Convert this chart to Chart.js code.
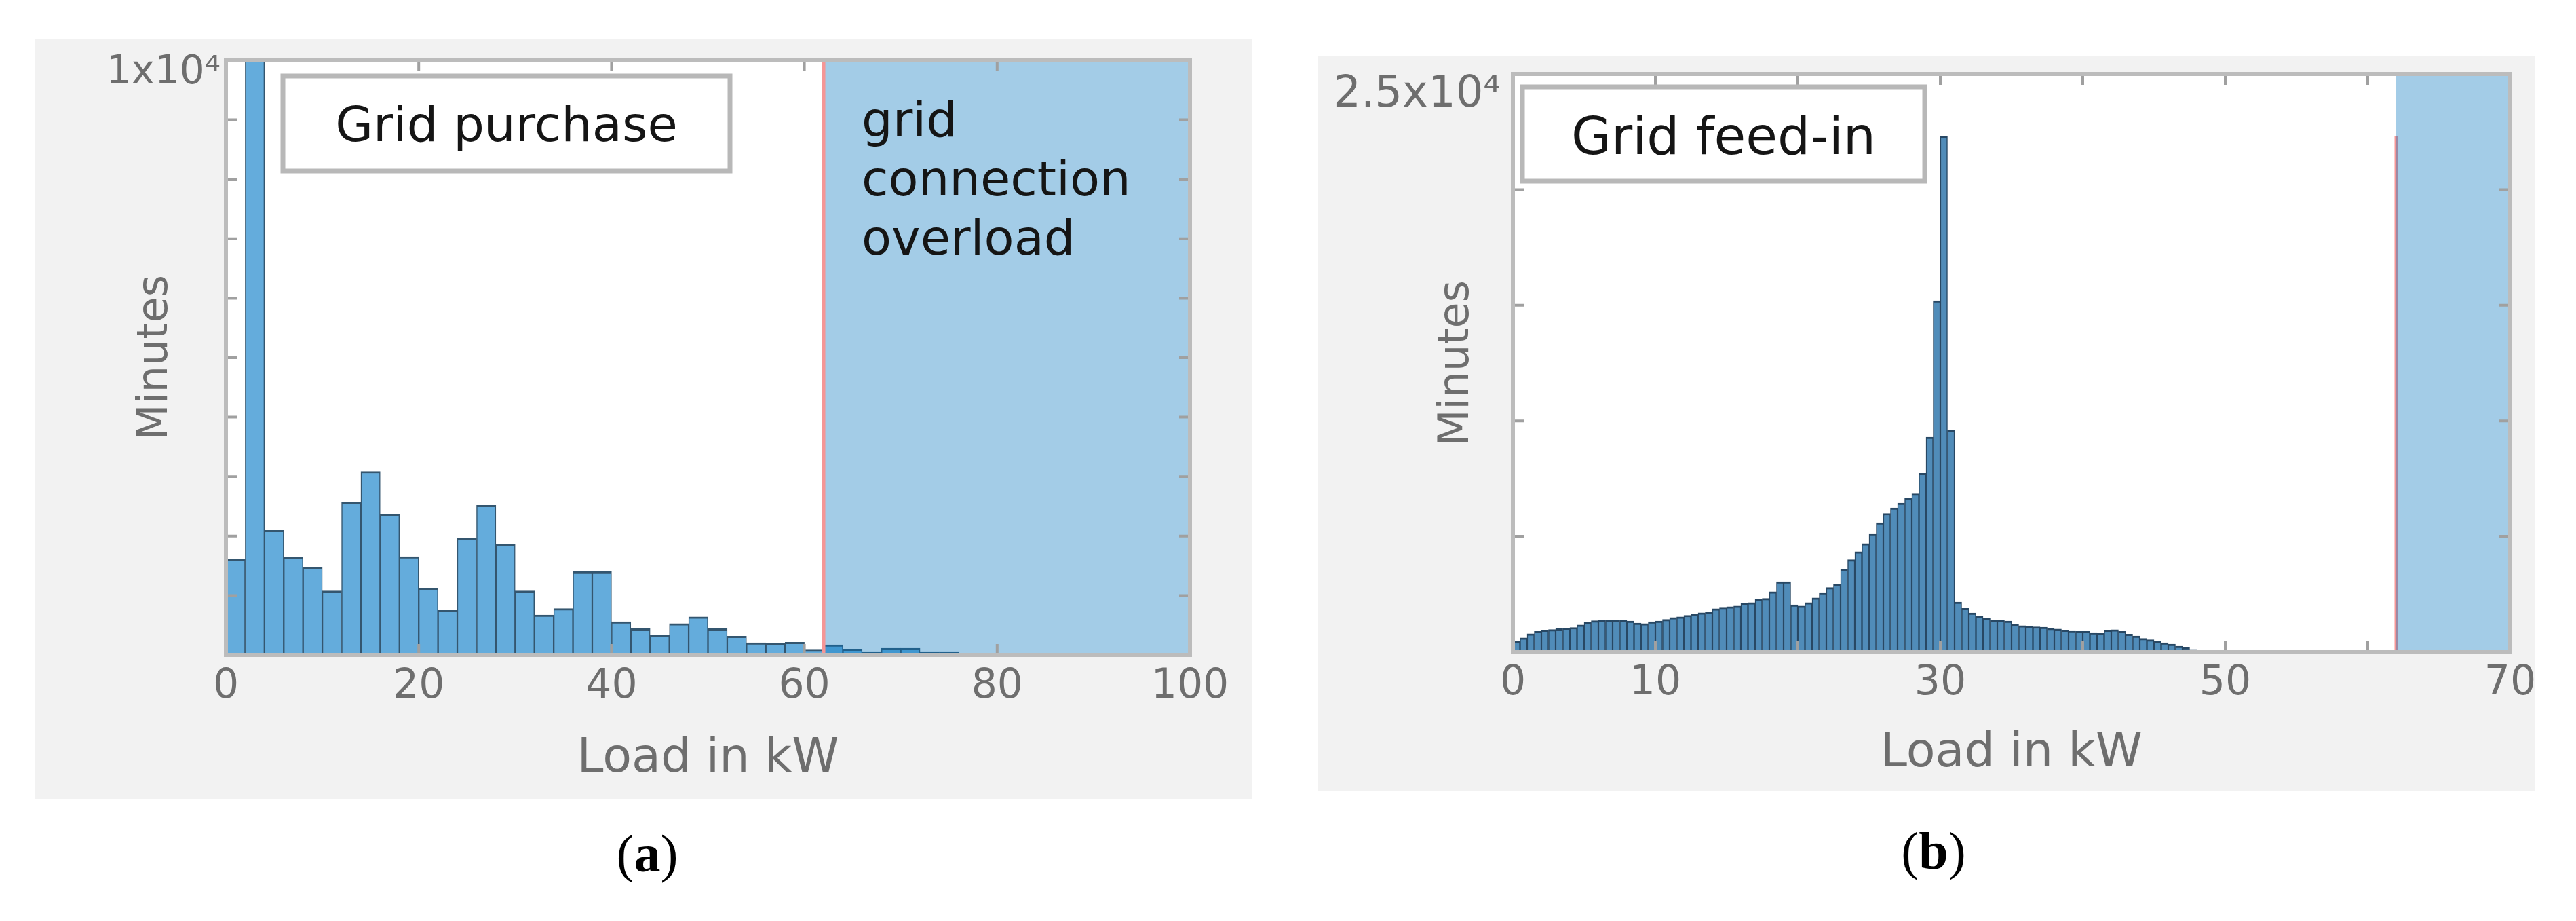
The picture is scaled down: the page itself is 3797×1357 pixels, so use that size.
<!DOCTYPE html>
<html>
<head>
<meta charset="utf-8">
<title>Grid purchase / grid feed-in histograms</title>
<script src="https://cdn.jsdelivr.net/npm/chart.js@4.4.1/dist/chart.umd.min.js"></script>
<style>
  body { margin: 0; width: 3797px; height: 1357px; background: #fff; position: relative; overflow: hidden; }
  .panel { position: absolute; background: #f2f2f2; }
  #panelA { left: 52px; top: 57px; width: 1793px; height: 1120px; }
  #panelB { left: 1942px; top: 82px; width: 1794px; height: 1084px; }
  .caption { position: absolute; font-family: "Liberation Serif", "DejaVu Serif", serif; font-size: 78px; line-height: 1; transform: translateX(-50%); color: #000; }
</style>
</head>
<body>
<div class="panel" id="panelA"><canvas id="chartA"></canvas></div>
<div class="panel" id="panelB"><canvas id="chartB"></canvas></div>
<div class="caption" style="left:954px; top:1219px">(<b>a</b>)</div>
<div class="caption" style="left:2850px; top:1215px">(<b>b</b>)</div>
<script>
// (a) grid purchase, 2 kW bins (bin centres in kW)
var binsA = [1, 3, 5, 7, 9, 11, 13, 15, 17, 19,
  21, 23, 25, 27, 29, 31, 33, 35, 37, 39,
  41, 43, 45, 47, 49, 51, 53, 55, 57, 59,
  61, 63, 65, 67, 69, 71, 73, 75, 77, 79];
var minutesA = [1615, 12000, 2096, 1642, 1480, 1077, 2577, 3088, 2365, 1654,
  1115, 750, 1962, 2519, 1865, 1077, 673, 781, 1404, 1404,
  558, 442, 327, 527, 642, 442, 315, 204, 192, 212,
  96, 170, 100, 57, 114, 114, 57, 57, 20, 20];
var xLabelsA = [0, 20, 40, 60, 80, 100];

// (b) grid feed-in, 0.5 kW bins (bin centres in kW)
var binsB = [0.25, 0.75, 1.25, 1.75, 2.25, 2.75, 3.25, 3.75, 4.25, 4.75,
  5.25, 5.75, 6.25, 6.75, 7.25, 7.75, 8.25, 8.75, 9.25, 9.75,
  10.25, 10.75, 11.25, 11.75, 12.25, 12.75, 13.25, 13.75, 14.25, 14.75,
  15.25, 15.75, 16.25, 16.75, 17.25, 17.75, 18.25, 18.75, 19.25, 19.75,
  20.25, 20.75, 21.25, 21.75, 22.25, 22.75, 23.25, 23.75, 24.25, 24.75,
  25.25, 25.75, 26.25, 26.75, 27.25, 27.75, 28.25, 28.75, 29.25, 29.75,
  30.25, 30.75, 31.25, 31.75, 32.25, 32.75, 33.25, 33.75, 34.25, 34.75,
  35.25, 35.75, 36.25, 36.75, 37.25, 37.75, 38.25, 38.75, 39.25, 39.75,
  40.25, 40.75, 41.25, 41.75, 42.25, 42.75, 43.25, 43.75, 44.25, 44.75,
  45.25, 45.75, 46.25, 46.75, 47.25, 47.75, 48.25];
var minutesB = [470, 620, 800, 930, 960, 980, 1020, 1050, 1070, 1180,
  1280, 1360, 1380, 1390, 1400, 1380, 1350, 1260, 1240, 1320,
  1350, 1420, 1500, 1530, 1600, 1650, 1710, 1740, 1880, 1920,
  1970, 2000, 2100, 2150, 2280, 2330, 2620, 3050, 3050, 2050,
  2000, 2150, 2350, 2580, 2800, 2950, 3600, 4000, 4350, 4700,
  5100, 5600, 6000, 6250, 6450, 6650, 6850, 7740, 9300, 15200,
  22300, 9600, 2170, 1900, 1700, 1550, 1480, 1400, 1380, 1350,
  1200, 1150, 1120, 1100, 1080, 1040, 1000, 960, 940, 920,
  900, 850, 830, 960, 970, 930, 780, 700, 600, 540,
  460, 410, 350, 260, 200, 120, 50];
var xLabelsB = [0, 10, 30, 50, 70];

var gridLimit = [62, 62];            // kW, connection limit per panel
var yTopLabels = ["1x10\u2074", "2.5x10\u2074"];
var overloadText = ["grid", "connection", "overload"];

var FONT = "'DejaVu Sans', sans-serif";
var GREY = "#6e6e6e";

// MATLAB-like axes: white plot area, box, inward ticks, text box legend, notes
var framePlugin = {
  id: "frame",
  beforeDatasetsDraw: function (chart) {
    var ctx = chart.ctx, a = chart.chartArea;
    ctx.save();
    ctx.fillStyle = "#ffffff";
    ctx.fillRect(a.left, a.top, a.right - a.left, a.bottom - a.top);
    ctx.restore();
  },
  afterDatasetsDraw: function (chart, args, opts) {
    var ctx = chart.ctx, a = chart.chartArea;
    var xs = chart.scales.x, ys = chart.scales.y;
    ctx.save();

    ctx.strokeStyle = "#a0a0a0";
    ctx.lineWidth = 4;
    ctx.beginPath();
    xs.ticks.forEach(function (t) {
      var px = xs.getPixelForValue(t.value);
      ctx.moveTo(px, a.bottom); ctx.lineTo(px, a.bottom - 16);
      ctx.moveTo(px, a.top); ctx.lineTo(px, a.top + 16);
    });
    ys.ticks.forEach(function (t) {
      var py = ys.getPixelForValue(t.value);
      ctx.moveTo(a.left, py); ctx.lineTo(a.left + 16, py);
      ctx.moveTo(a.right, py); ctx.lineTo(a.right - 16, py);
    });
    ctx.stroke();

    ctx.strokeStyle = "#bcbcbc";
    ctx.lineWidth = 6;
    ctx.strokeRect(a.left, a.top, a.right - a.left, a.bottom - a.top);

    // legend box
    var b = opts.box;
    ctx.fillStyle = "#fff";
    ctx.fillRect(a.left + b.left, a.top + b.top, b.w, b.h);
    ctx.strokeStyle = "#b8b8b8";
    ctx.lineWidth = 7;
    ctx.strokeRect(a.left + b.left, a.top + b.top, b.w, b.h);
    ctx.fillStyle = "#151515";
    ctx.font = b.size + "px " + FONT;
    ctx.textAlign = "center";
    ctx.textBaseline = "alphabetic";
    ctx.fillText(chart.data.datasets[0].label, a.left + b.left + b.w / 2, a.top + b.base);

    // notes inside the overload band
    if (opts.notes) {
      var n = opts.notes;
      ctx.textAlign = "left";
      ctx.font = n.size + "px " + FONT;
      var nx = xs.getPixelForValue(n.at) + n.dx;
      n.lines.forEach(function (s, i) {
        ctx.fillText(s, nx, a.top + n.top + i * n.step);
      });
    }
    ctx.restore();
  }
};

function buildChart(id, p) {
  var bars = p.bins.map(function (b, i) { return { x: b, y: p.values[i] }; });
  var peak = Math.max.apply(null, p.values);
  return new Chart(document.getElementById(id), {
    type: "bar",
    data: {
      datasets: [
        {
          type: "bar", label: p.label, data: bars,
          backgroundColor: p.fill, borderColor: p.edge,
          borderWidth: { top: 3, bottom: 3, left: 1.5, right: 1.5 },
          borderSkipped: false, barPercentage: 1, categoryPercentage: 1,
          order: 3, clip: 0
        },
        {
          type: "line", label: "limit",
          data: [{ x: p.limit, y: 0 }, { x: p.limit, y: peak }],
          borderColor: "#f59696", borderWidth: 5, pointRadius: 0,
          order: p.lineOnTop ? 0 : 2, clip: 0
        },
        {
          type: "line", label: "overload",
          data: [{ x: p.limit, y: p.yMax }, { x: p.xMax, y: p.yMax }],
          borderWidth: 0, pointRadius: 0, fill: "origin",
          backgroundColor: "rgba(0,114,189,0.36)",
          order: 1, clip: 0
        }
      ]
    },
    options: {
      animation: false,
      responsive: true,
      maintainAspectRatio: false,
      layout: { padding: { top: p.padTop, right: p.padRight, left: 0, bottom: 0 } },
      plugins: {
        legend: { display: false },
        tooltip: { enabled: false },
        frame: { box: p.box, notes: p.notes }
      },
      scales: {
        x: {
          type: "linear", min: 0, max: p.xMax, offset: false,
          grid: { display: false, drawTicks: false },
          border: { display: false },
          ticks: {
            stepSize: p.xStep, autoSkip: false, maxRotation: 0,
            padding: p.xTickPad, color: GREY,
            font: { family: FONT, size: 60, lineHeight: 1 },
            callback: function (v) { return p.xLabels.indexOf(v) >= 0 ? String(v) : ""; }
          },
          title: {
            display: true, text: "Load in kW", color: GREY,
            font: { family: FONT, size: 70 },
            padding: { top: 0, bottom: p.xTitlePad }
          },
          afterFit: function (s) {
            s.height = p.xAxisH;
            s.paddingLeft = 0; s.paddingRight = 0;
          }
        },
        y: {
          min: 0, max: p.yMax,
          grid: { display: false, drawTicks: false },
          border: { display: false },
          ticks: {
            stepSize: p.yStep, autoSkip: false,
            padding: p.yTickPad, labelOffset: p.yLabelOffset, color: GREY,
            font: { family: FONT, size: p.yLabelSize, lineHeight: 1 },
            callback: function (v) { return v === p.yMax ? p.yTop : ""; }
          },
          title: {
            display: true, text: "Minutes", color: GREY,
            font: { family: FONT, size: 62 },
            padding: { top: p.yTitlePad, bottom: 0 }
          },
          afterFit: function (s) {
            s.width = p.yAxisW;
            s.paddingTop = 0; s.paddingBottom = 0;
          }
        }
      }
    },
    plugins: [framePlugin]
  });
}

buildChart("chartA", {
  label: "Grid purchase", bins: binsA, values: minutesA, xLabels: xLabelsA,
  fill: "#64acdc", edge: "#34566f", lineOnTop: true,
  limit: gridLimit[0], xMax: 100, xStep: 20, yMax: 10000, yStep: 1000, yTop: yTopLabels[0],
  padTop: 32, padRight: 91, yAxisW: 281, xAxisH: 212,
  xTickPad: 17, xTitlePad: 16, yTickPad: 8, yLabelOffset: 19, yLabelSize: 58, yTitlePad: 141,
  box: { left: 84, top: 23, w: 659, h: 140, size: 72, base: 119 },
  notes: { lines: overloadText, at: gridLimit[0], dx: 56, top: 112, step: 87, size: 72 }
});

buildChart("chartB", {
  label: "Grid feed-in", bins: binsB, values: minutesB, xLabels: xLabelsB,
  fill: "rgb(80,140,185)", edge: "rgb(40,72,100)", lineOnTop: false,
  limit: gridLimit[1], xMax: 70, xStep: 10, yMax: 25000, yStep: 5000, yTop: yTopLabels[1],
  padTop: 27, padRight: 36, yAxisW: 288, xAxisH: 205,
  xTickPad: 16, xTitlePad: 13, yTickPad: 18, yLabelOffset: 31, yLabelSize: 64, yTitlePad: 169,
  box: { left: 14, top: 19, w: 593, h: 139, size: 76, base: 118 },
  notes: null
});
</script>
</body>
</html>
